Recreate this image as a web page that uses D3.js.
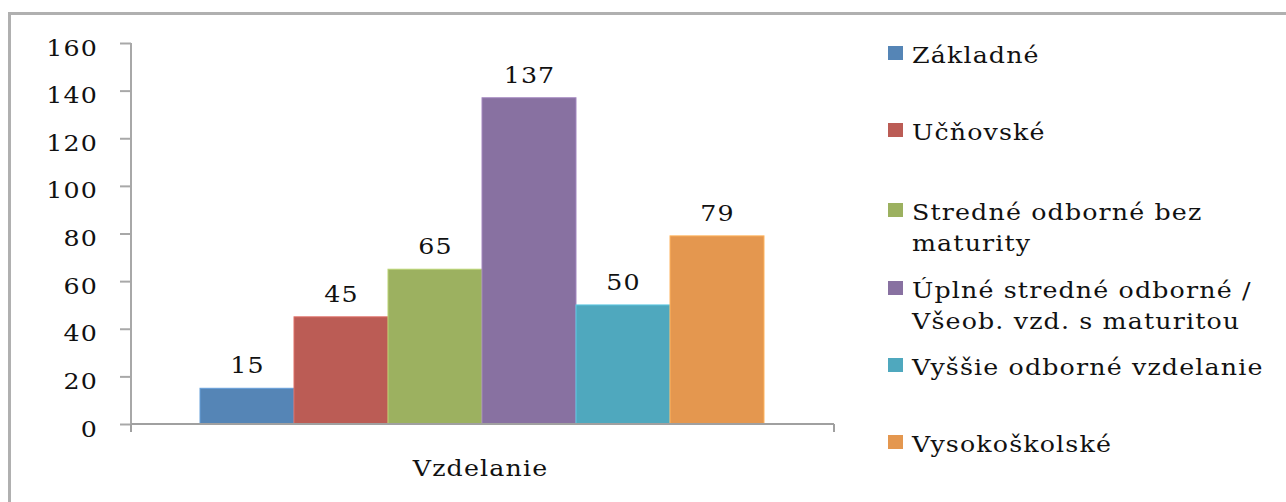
<!DOCTYPE html>
<html><head><meta charset="utf-8">
<script src="https://cdn.jsdelivr.net/npm/d3@7"></script>
<style>
html,body{margin:0;padding:0;background:#fff;}
svg text{font-family:"DejaVu Serif",serif;fill:#111;letter-spacing:1px;}
</style></head>
<body><svg id="c" width="1286" height="502"></svg>
<script>
const categories = ["Základné","Učňovské","Stredné odborné bez maturity","Úplné stredné odborné / Všeob. vzd. s maturitou","Vyššie odborné vzdelanie","Vysokoškolské"];
const legendLines = [["Základné"],["Učňovské"],["Stredné odborné bez","maturity"],["Úplné stredné odborné /","Všeob. vzd. s maturitou"],["Vyššie odborné vzdelanie"],["Vysokoškolské"]];
const values = [15,45,65,137,50,79];
const colors = ["#5585b6","#bb5c55","#9cb160","#8871a1","#4fa8be","#e4974f"];
const yTicks = [0,20,40,60,80,100,120,140,160];
const groupLabel = "Vzdelanie";
const SX = 1.15;

const svg = d3.select("#c");
// frame
svg.append("path").attr("d","M9.5,502 L9.5,13.5 L1286,13.5").attr("fill","none").attr("stroke","#b0b0b0").attr("stroke-width",3);

const y = d3.scaleLinear().domain([0,160]).range([424,43]);
const xOuter = d3.scaleBand().domain([groupLabel]).range([131,834]);
const x = d3.scaleBand().domain(categories).range([200,764]);

// bars
svg.selectAll("rect.bar").data(values).join("rect").attr("class","bar")
  .attr("x",(d,i)=>x(categories[i])).attr("width",x.bandwidth())
  .attr("y",d=>y(d)).attr("height",d=>y(0)-y(d))
  .attr("fill",(d,i)=>colors[i]).attr("stroke",(d,i)=>d3.color(colors[i]).brighter(0.5)).attr("stroke-width",1);

// value labels
svg.selectAll("text.val").data(values).join("text").attr("class","val")
  .attr("transform",(d,i)=>`translate(${x(categories[i])+x.bandwidth()/2+0.5},${y(d)-15}) scale(${SX},1)`)
  .attr("text-anchor","middle").attr("font-size",22).text(d=>d);

// y axis
const yAxis = svg.append("g").attr("transform","translate(131,0)")
  .call(d3.axisLeft(y).tickValues(yTicks).tickSize(11).tickPadding(23));
yAxis.select(".domain").attr("stroke","#a8a8a8").attr("stroke-width",2).attr("d","M0,43V428");
yAxis.selectAll(".tick line").attr("stroke","#a8a8a8").attr("stroke-width",2);
yAxis.selectAll(".tick text").attr("font-size",22).attr("font-family","DejaVu Serif").attr("fill","#111")
  .attr("x",null).attr("dy","0.55em").attr("transform",`translate(-33,0) scale(${SX},1)`);

// x axis
svg.append("line").attr("x1",131).attr("x2",834).attr("y1",424).attr("y2",424).attr("stroke","#a0a0a0").attr("stroke-width",2);
[131,834].forEach(px=>svg.append("line").attr("x1",px).attr("x2",px).attr("y1",424).attr("y2",432).attr("stroke","#a0a0a0").attr("stroke-width",2));
svg.append("text").attr("transform",`translate(${xOuter(groupLabel)+xOuter.bandwidth()/2-2},476) scale(${SX},1)`)
  .attr("text-anchor","middle").attr("font-size",22).text(groupLabel);

// legend
const legY = [63,140,220,298,375,452];
const leg = svg.selectAll("g.leg").data(legendLines).join("g").attr("class","leg")
  .attr("transform",(d,i)=>`translate(0,${legY[i]})`);
leg.append("rect").attr("x",888).attr("y",-17).attr("width",15).attr("height",14)
  .attr("fill",(d,i)=>colors[i]);
leg.each(function(lines){
  const t = d3.select(this).append("text").attr("transform",`translate(912,0) scale(${SX},1)`).attr("font-size",22);
  lines.forEach((l,j)=>t.append("tspan").attr("x",0).attr("dy",j?31:0).text(l));
});
</script></body></html>
